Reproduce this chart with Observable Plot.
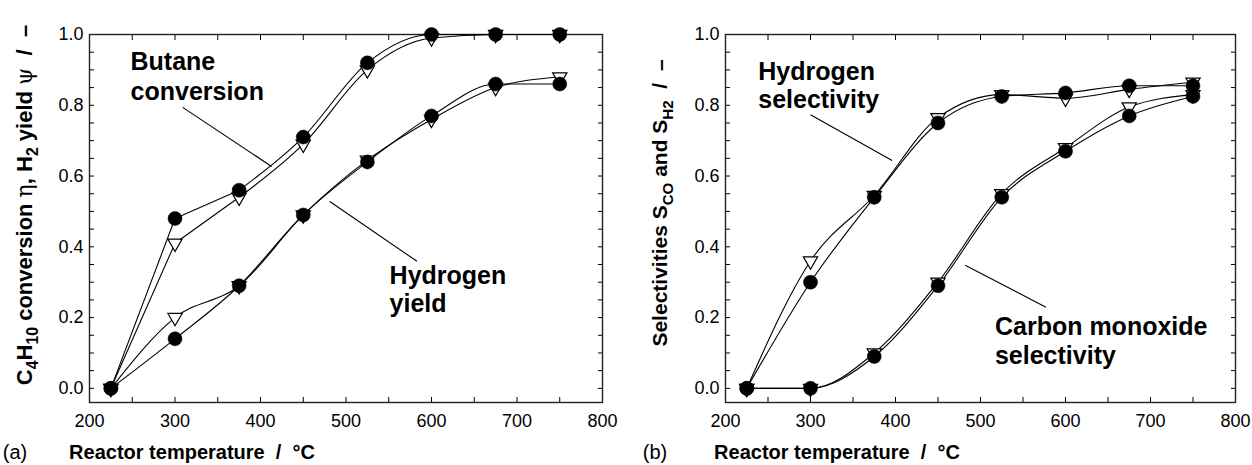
<!DOCTYPE html>
<html><head><meta charset="utf-8">
<script src="https://cdn.jsdelivr.net/npm/d3@7"></script>
<script src="https://cdn.jsdelivr.net/npm/@observablehq/plot@0.6"></script>
<style>
body{margin:0;background:#fff}
#wrap{position:relative;width:1252px;height:465px;overflow:hidden;background:#fff}
#wrap svg{position:absolute;top:0;overflow:visible}
</style>
</head><body><div id="wrap"></div>
<script>
// ---- data ----
const temps = [225, 300, 375, 450, 525, 600, 675, 750];
// panel (a)
const butaneConvCircle = [0, 0.48, 0.56, 0.71, 0.92, 1.00, 1.00, 1.00];
const butaneConvTri    = [0, 0.41, 0.54, 0.69, 0.90, 0.99, 1.00, 1.00];
const h2YieldCircle    = [0, 0.14, 0.29, 0.49, 0.64, 0.77, 0.86, 0.86];
const h2YieldTri       = [0, 0.20, 0.29, 0.49, 0.645, 0.76, 0.85, 0.88];
// panel (b)
const h2SelCircle = [0, 0.30, 0.54, 0.75, 0.825, 0.835, 0.855, 0.855];
const h2SelTri    = [0, 0.36, 0.545, 0.765, 0.83, 0.82, 0.845, 0.865];
const coSelCircle = [0, 0, 0.09, 0.29, 0.54, 0.67, 0.77, 0.825];
const coSelTri    = [0, 0, 0.10, 0.30, 0.55, 0.68, 0.795, 0.83];
// ticks
const xMinorTicks = [200, 250, 300, 350, 400, 450, 500, 550, 600, 650, 700, 750, 800];
const xTickLabels = [200, 300, 400, 500, 600, 700, 800];
const yMinorTicks = [0, 0.05, 0.1, 0.15, 0.2, 0.25, 0.3, 0.35, 0.4, 0.45, 0.5, 0.55, 0.6, 0.65, 0.7, 0.75, 0.8, 0.85, 0.9, 0.95, 1.0];
const yTickLabels = [0, 0.2, 0.4, 0.6, 0.8, 1.0];
// annotations (data units)
const notesA = [
  {text: "Butane", x: 248, y: 0.922},
  {text: "conversion", x: 248, y: 0.837},
  {text: "Hydrogen", x: 551, y: 0.317},
  {text: "yield", x: 551, y: 0.237}
];
const leadersA = [
  {x1: 309, y1: 0.794, x2: 413, y2: 0.627},
  {x1: 481, y1: 0.528, x2: 583, y2: 0.359}
];
const notesB = [
  {text: "Hydrogen", x: 238.5, y: 0.893},
  {text: "selectivity", x: 238.5, y: 0.815},
  {text: "Carbon monoxide", x: 517, y: 0.172},
  {text: "selectivity", x: 517, y: 0.092}
];
const leadersB = [
  {x1: 300, y1: 0.773, x2: 396, y2: 0.644},
  {x1: 482, y1: 0.348, x2: 577, y2: 0.229}
];

const FONT = "'Liberation Sans', Arial, Helvetica, sans-serif";
const rows = (ys) => temps.map((t, i) => ({t, v: ys[i]}));

// series: {ys, kink} — kink: number of leading points joined by straight segments
function panel({width, marginLeft, marginRight, circles, tris, notes, leaders}) {
  const marks = [
    Plot.axisX({anchor: "bottom", ticks: xMinorTicks, tickSize: -5, tickFormat: () => "", label: null}),
    Plot.axisX({anchor: "top", ticks: xMinorTicks, tickSize: -5, tickFormat: () => "", label: null}),
    Plot.axisY({anchor: "left", ticks: yMinorTicks, tickSize: -5, tickFormat: () => "", label: null}),
    Plot.axisY({anchor: "right", ticks: yMinorTicks, tickSize: -5, tickFormat: () => "", label: null}),
    Plot.axisX({anchor: "bottom", ticks: xTickLabels, tickSize: 0, tickPadding: 12, fontSize: 18, label: null, tickFormat: d3.format("d")}),
    Plot.axisY({anchor: "left", ticks: yTickLabels, tickSize: 0, tickPadding: 6, fontSize: 18, label: null, tickFormat: d3.format(".1f")}),
    Plot.frame({stroke: "#222", strokeWidth: 1.4}),
    Plot.link(leaders, {x1: "x1", y1: "y1", x2: "x2", y2: "y2", stroke: "black", strokeWidth: 1.1})
  ];
  const lineOpts = {x: "t", y: "v", stroke: "black", strokeWidth: 1.1};
  for (const s of [...tris, ...circles]) {
    const r = rows(s.ys);
    if (s.kink) {
      marks.push(Plot.line(r.slice(0, s.kink), {...lineOpts, curve: "linear"}));
      marks.push(Plot.line(r.slice(s.kink - 1), {...lineOpts, curve: "monotone-x"}));
    } else {
      marks.push(Plot.line(r, {...lineOpts, curve: "monotone-x"}));
    }
  }
  for (const s of tris) {
    marks.push(Plot.dot(rows(s.ys), {x: "t", y: "v", symbol: "triangle", rotate: 180, r: 5.3, fill: "white", stroke: "black", strokeWidth: 1.2}));
  }
  for (const s of circles) {
    marks.push(Plot.dot(rows(s.ys), {x: "t", y: "v", r: 7, fill: "black", stroke: "black", strokeWidth: 0.5}));
  }
  marks.push(Plot.text(notes, {x: "x", y: "y", text: "text", textAnchor: "start", lineAnchor: "middle", fontSize: 25, fontWeight: "bold", fill: "black"}));
  return Plot.plot({
    width, height: 465,
    marginLeft, marginRight, marginTop: 34, marginBottom: 63,
    x: {domain: [200, 800]},
    y: {domain: [-0.04, 1.0]},
    style: {fontFamily: FONT, color: "black", background: "white"},
    marks
  });
}

function rich(textSel, parts, size) {
  let shift = 0;
  for (const p of parts) {
    const target = p.sub ? size * 0.28 : 0;
    const ts = textSel.append("tspan").text(p.t).attr("dy", target - shift);
    shift = target;
    if (p.sub) ts.attr("font-size", size * 0.72);
    if (p.normal) ts.attr("font-weight", "normal").attr("font-family", "'DejaVu Serif', serif");
  }
}

const wrap = d3.select("#wrap");

// Panel (a)
const svgA = panel({width: 620, marginLeft: 89, marginRight: 18,
  circles: [{ys: butaneConvCircle, kink: 3}, {ys: h2YieldCircle}],
  tris: [{ys: butaneConvTri, kink: 3}, {ys: h2YieldTri}],
  notes: notesA, leaders: leadersA});
svgA.style.left = "0px";
wrap.node().appendChild(svgA);
{
  const s = d3.select(svgA);
  const yl = s.append("text").attr("transform", "translate(32,205) rotate(-90)")
    .attr("text-anchor", "middle").attr("font-size", 22).attr("font-weight", "bold")
    .attr("font-family", FONT).attr("fill", "black").attr("xml:space", "preserve");
  rich(yl, [{t: "C"}, {t: "4", sub: true}, {t: "H"}, {t: "10", sub: true}, {t: " conversion "},
            {t: "η", normal: true}, {t: ", H"}, {t: "2", sub: true}, {t: " yield "}, {t: "ψ", normal: true}, {t: "  /  –"}], 22);
  s.append("text").attr("x", 192).attr("y", 459).attr("font-size", 20).attr("font-weight", "bold")
    .attr("font-family", FONT).attr("fill", "black").attr("xml:space", "preserve").text("Reactor temperature  /  °C");
  s.append("text").attr("x", 15).attr("y", 459).attr("font-size", 20)
    .attr("font-family", FONT).attr("fill", "black").text("(a)");
}

// Panel (b)
const svgB = panel({width: 622, marginLeft: 95, marginRight: 17,
  circles: [{ys: h2SelCircle}, {ys: coSelCircle}],
  tris: [{ys: h2SelTri}, {ys: coSelTri}],
  notes: notesB, leaders: leadersB});
svgB.style.left = "630px";
wrap.node().appendChild(svgB);
{
  const s = d3.select(svgB);
  const yl = s.append("text").attr("transform", "translate(37,203) rotate(-90)")
    .attr("text-anchor", "middle").attr("font-size", 21).attr("font-weight", "bold")
    .attr("font-family", FONT).attr("fill", "black").attr("xml:space", "preserve");
  rich(yl, [{t: "Selectivities S"}, {t: "CO", sub: true}, {t: " and S"}, {t: "H2", sub: true}, {t: "  /  –"}], 21);
  s.append("text").attr("x", 207).attr("y", 459).attr("font-size", 20).attr("font-weight", "bold")
    .attr("font-family", FONT).attr("fill", "black").attr("xml:space", "preserve").text("Reactor temperature  /  °C");
  s.append("text").attr("x", 25).attr("y", 459).attr("font-size", 20)
    .attr("font-family", FONT).attr("fill", "black").text("(b)");
}
</script>
</body></html>
